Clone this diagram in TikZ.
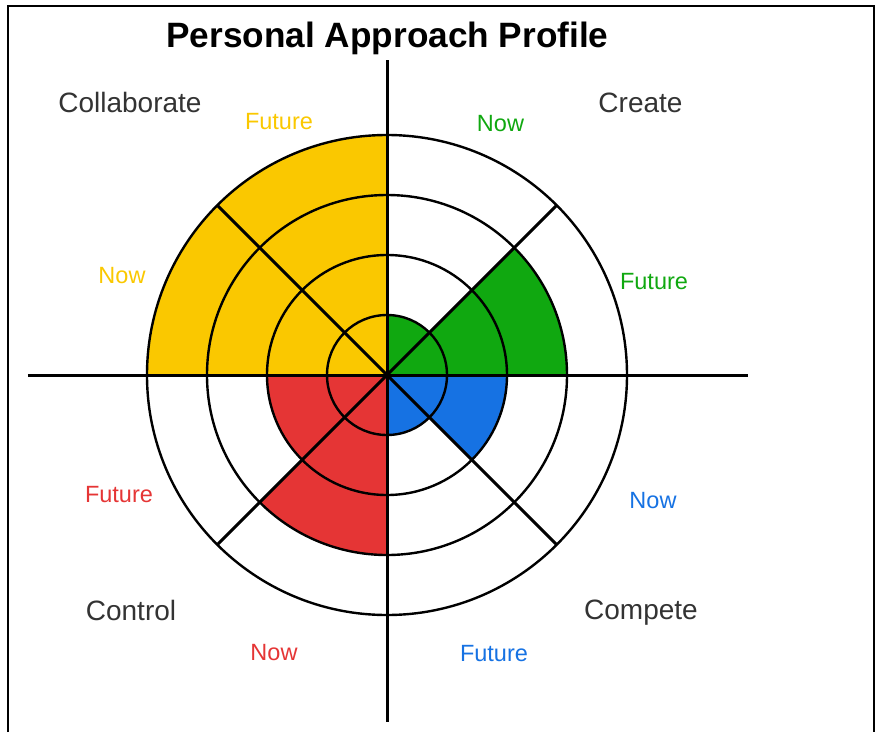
\documentclass[tikz,border=0pt]{standalone}
\usepackage{fontspec}
\setmainfont{Liberation Sans}
\usepackage{xcolor}
\usepackage{tikz}

\definecolor{collabyellow}{HTML}{FAC800}
\definecolor{creategreen}{HTML}{10A810}
\definecolor{competeblue}{HTML}{1672E3}
\definecolor{controlred}{HTML}{E53535}
\definecolor{labelgray}{HTML}{333333}

\begin{document}
\begin{tikzpicture}[
  x=1pt, y=1pt,
  quadrant/.style={anchor=base, text=labelgray, font=\fontsize{28}{30}\selectfont},
  tag/.style={anchor=base, font=\fontsize{23.5}{26}\selectfont},
  ring/.style={line width=2.4pt},
  spoke/.style={line width=2.9pt},
  axis/.style={line width=3pt}
]
\useasboundingbox (-387,-357) rectangle (488,375);

% Frame
\draw[line width=2pt] (-379,-357) -- (-379,369) -- (487,369) -- (487,-357);

% Sectors
\fill[collabyellow] (0,0) -- (90:240pt) arc[start angle=90, end angle=180, radius=240pt] -- cycle;
\fill[creategreen] (0,0) -- (0:180pt) arc[start angle=0, end angle=45, radius=180pt] -- cycle;
\fill[creategreen] (0,0) -- (45:60pt) arc[start angle=45, end angle=90, radius=60pt] -- cycle;
\fill[competeblue] (0,0) -- (0:120pt) arc[start angle=0, end angle=-45, radius=120pt] -- cycle;
\fill[competeblue] (0,0) -- (-45:60pt) arc[start angle=-45, end angle=-90, radius=60pt] -- cycle;
\fill[controlred] (0,0) -- (180:120pt) arc[start angle=180, end angle=225, radius=120pt] -- cycle;
\fill[controlred] (0,0) -- (225:180pt) arc[start angle=225, end angle=270, radius=180pt] -- cycle;

% Rings and spokes
\foreach \r in {60,120,180,240}
  \draw[ring] (0,0) circle[radius=\r pt];
\foreach \a in {45,135,225,315}
  \draw[spoke] (0,0) -- (\a:240pt);

% Axes
\coordinate (west) at (-359,0);
\coordinate (east) at (361,0);
\coordinate (north) at (0,315);
\coordinate (south) at (0,-347);
\draw[axis] (west) -- (east);
\draw[axis] (north) -- (south);

% Title
\node[anchor=base, font=\fontsize{35.2}{38}\selectfont\bfseries] (title) at (0.5,327.7) {Personal Approach Profile};

% Quadrant labels
\node[quadrant] (collab) at (-257,263) {Collaborate};
\node[quadrant] (create) at (253.5,262.7) {Create};
\node[quadrant] (control) at (-256,-245) {Control};
\node[quadrant] (compete) at (254,-244.3) {Compete};

% Now / Future labels
\node[tag, text=collabyellow] (collabfuture) at (-108,245.7) {Future};
\node[tag, text=collabyellow] (collabnow) at (-265,91.7) {Now};
\node[tag, text=creategreen] (createnow) at (113.5,243.3) {Now};
\node[tag, text=creategreen] (createfuture) at (267,85.7) {Future};
\node[tag, text=competeblue] (competenow) at (266,-133.3) {Now};
\node[tag, text=competeblue] (competefuture) at (107,-286.7) {Future};
\node[tag, text=controlred] (controlfuture) at (-268,-127.7) {Future};
\node[tag, text=controlred] (controlnow) at (-113,-285) {Now};

\end{tikzpicture}
\end{document}
